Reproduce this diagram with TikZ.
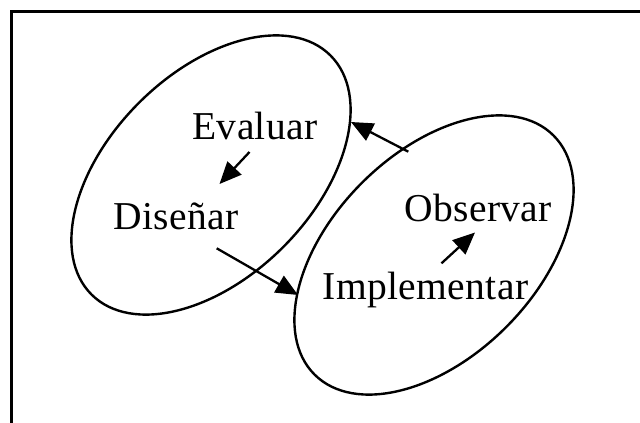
\documentclass[tikz,border=0pt]{standalone}
\usepackage{fontspec}
\setmainfont{Liberation Serif}[LetterSpace=1]
\usetikzlibrary{shapes.geometric,arrows.meta}
\tikzset{
  lbl/.style={inner sep=0pt, anchor=base, font=\fontsize{39.5}{42}\selectfont},
  oval/.style={draw, ellipse, line width=2.4pt, inner sep=0pt, minimum width=338pt, minimum height=204pt, rotate=45},
  arr/.style={line width=2.3pt, -{Triangle[length=22pt,width=19pt]}},
  frame/.style={line width=3pt}
}
\begin{document}
\begin{tikzpicture}[x=1pt,y=-1pt]
\useasboundingbox (0,0) rectangle (640,423);
% frame (only top and left edges are visible)
\coordinate (fbl) at (11.5,423);
\coordinate (ftl) at (11.5,11);
\coordinate (ftr) at (640,11);
\draw[frame] (fbl) -- (ftl) -- (ftr);
% ovals
\node[oval] (O1) at (211,175) {};
\node[oval] (O2) at (434,255) {};
% labels
\node[lbl] (ev) at (255,139.3) {Evaluar};
\node[lbl] (di) at (176,229.3) {Diseñar};
\node[lbl] (im) at (425.5,299.3) {Implementar};
\node[lbl] (ob) at (478.3,221.7) {Observar};
% arrow end points
\coordinate (a1s) at (249.5,152);
\coordinate (a1e) at (219.5,184);
\coordinate (a2s) at (216.7,248.3);
\coordinate (a2e) at (298,295);
\coordinate (a3s) at (441.5,263.3);
\coordinate (a3e) at (475,232.5);
\coordinate (a4s) at (408.3,151.7);
\coordinate (a4e) at (351,122);
\draw[arr] (a1s) -- (a1e);
\draw[arr] (a2s) -- (a2e);
\draw[arr] (a3s) -- (a3e);
\draw[arr] (a4s) -- (a4e);
\end{tikzpicture}
\end{document}
